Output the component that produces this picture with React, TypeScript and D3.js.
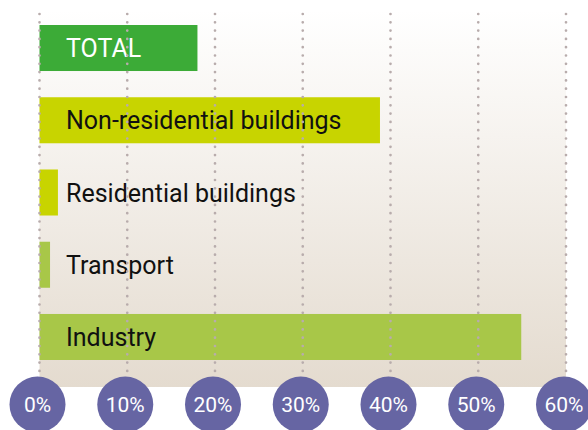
import { scaleBand, scaleLinear, select } from 'd3';
import { useEffect, useRef } from 'react';

// sectors, top to bottom, values in %
const sectors = [
  'TOTAL',
  'Non-residential buildings',
  'Residential buildings',
  'Transport',
  'Industry',
];
const shares = [18, 38.8, 2.1, 1.2, 54.9];
const barColors = ['#3cab37', '#c8d400', '#c8d400', '#a8c748', '#a8c748'];
const labelColors = ['#ffffff', '#111111', '#111111', '#111111', '#111111'];
const ticks = [0, 10, 20, 30, 40, 50, 60];

const App = () => {
  const svgRef = useRef<SVGSVGElement>(null);

  useEffect(() => {
    const width = 588;
    const height = 430;
    const svg = select(svgRef.current);
    svg.selectAll('*').remove();
    svg.attr('width', width).attr('height', height);

    const x = scaleLinear().domain([0, 60]).range([39.5, 566]);
    const y = scaleBand()
      .domain(sectors)
      .range([25, 360])
      .paddingInner(0.363)
      .paddingOuter(0);

    // background gradient
    const defs = svg.append('defs');
    const grad = defs
      .append('linearGradient')
      .attr('id', 'bg')
      .attr('x1', 0)
      .attr('y1', 0)
      .attr('x2', 0)
      .attr('y2', 1);
    grad.append('stop').attr('offset', '0%').attr('stop-color', '#ffffff');
    grad.append('stop').attr('offset', '100%').attr('stop-color', '#e4dbcf');

    svg
      .append('rect')
      .attr('x', x(0))
      .attr('y', 10)
      .attr('width', x(60) - x(0))
      .attr('height', 387 - 10)
      .attr('fill', 'url(#bg)');

    // bars
    svg
      .append('g')
      .selectAll('rect')
      .data(sectors)
      .enter()
      .append('rect')
      .attr('x', x(0))
      .attr('y', (d) => y(d) as number)
      .attr('width', (d, i) => x(shares[i]) - x(0))
      .attr('height', y.bandwidth())
      .attr('fill', (d, i) => barColors[i]);

    // labels
    svg
      .append('g')
      .selectAll('text')
      .data(sectors)
      .enter()
      .append('text')
      .attr('x', 66)
      .attr('y', (d) => (y(d) as number) + y.bandwidth() / 2 + 9)
      .attr('fill', (d, i) => labelColors[i])
      .style('font-family', 'Roboto, sans-serif')
      .style('font-size', '25px')
      .text((d) => d);

    // dotted grid lines, drawn over the bars
    svg
      .append('g')
      .selectAll('line')
      .data(ticks)
      .enter()
      .append('line')
      .attr('x1', (d) => x(d))
      .attr('x2', (d) => x(d))
      .attr('y1', 14)
      .attr('y2', 375)
      .attr('stroke', '#b8acac')
      .attr('stroke-width', 2.7)
      .attr('stroke-linecap', 'round')
      .attr('stroke-dasharray', '0 8.3');

    // tick bubbles
    const tick = svg
      .append('g')
      .selectAll('g')
      .data(ticks)
      .enter()
      .append('g')
      .attr('transform', (d) => `translate(${x(d) - 2},404.5)`);
    tick.append('circle').attr('r', 28).attr('fill', '#6665a3');
    tick
      .append('text')
      .attr('text-anchor', 'middle')
      .attr('y', 7.5)
      .attr('fill', '#ffffff')
      .style('font-family', 'Roboto, sans-serif')
      .style('font-size', '21px')
      .text((d) => `${d}%`);
  }, []);

  return (
    <svg
      ref={svgRef}
      style={{ position: 'absolute', left: 0, top: 0, display: 'block' }}
    />
  );
};

export default App;
